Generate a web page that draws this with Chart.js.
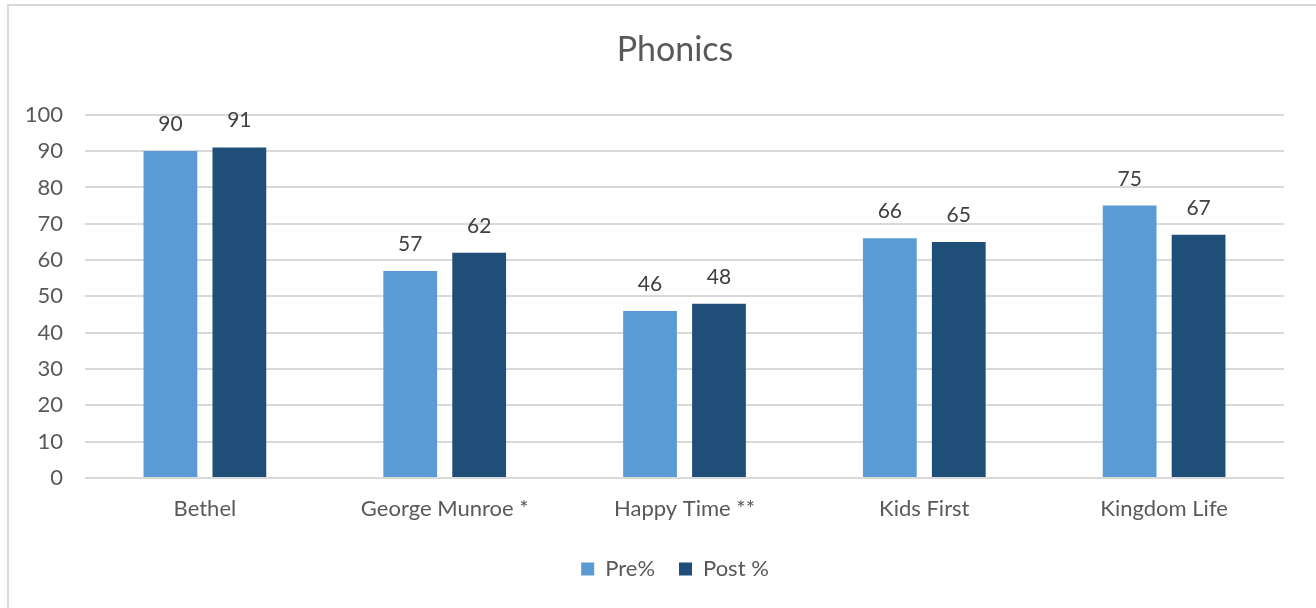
<!DOCTYPE html>
<html>
<head>
<meta charset="utf-8">
<script src="https://cdn.jsdelivr.net/npm/chart.js@4"></script>
<style>
  html, body { margin: 0; padding: 0; background: #fff; overflow: hidden; }
  #wrap { position: absolute; left: 0; top: 0; width: 1316px; height: 608px; overflow: hidden; }
  #frame { position: absolute; left: 7px; top: 4px; width: 1400px; height: 700px; border: 2px solid #d9d9d9; box-sizing: border-box; }
  canvas { position: absolute; left: 0; top: 0; }
</style>
</head>
<body>
<div id="wrap">
  <div id="frame"></div>
  <canvas id="chart" width="1350" height="608"></canvas>
</div>
<script>
// chart values
const schools = ['Bethel', 'George Munroe *', 'Happy Time **', 'Kids First', 'Kingdom Life'];
const prePct = [90, 57, 46, 66, 75];
const postPct = [91, 62, 48, 65, 67];
const yTicks = [0, 10, 20, 30, 40, 50, 60, 70, 80, 90, 100];

const textColor = '#595959';
const fontName = 'Lato, "Open Sans", sans-serif';

// draws the value above each bar (no datalabels plugin offline)
const valueLabels = {
  id: 'valueLabels',
  afterDatasetsDraw(chart) {
    const ctx = chart.ctx;
    ctx.save();
    ctx.fillStyle = '#404040';
    ctx.font = '21px ' + fontName;
    ctx.textAlign = 'center';
    ctx.textBaseline = 'alphabetic';
    chart.data.datasets.forEach(function(ds, i) {
      chart.getDatasetMeta(i).data.forEach(function(bar, j) {
        ctx.fillText(String(ds.data[j]), bar.x, bar.y - 20);
      });
    });
    ctx.restore();
  }
};

new Chart(document.getElementById('chart'), {
  type: 'bar',
  data: {
    labels: schools,
    datasets: [
      { label: 'Pre%', data: prePct, backgroundColor: '#5b9bd5' },
      { label: 'Post %', data: postPct, backgroundColor: '#1f4e79' }
    ]
  },
  options: {
    responsive: false,
    animation: false,
    layout: { padding: { left: 0, right: 0, top: 0, bottom: 18 } },
    datasets: { bar: { categoryPercentage: 0.575, barPercentage: 0.78 } },
    plugins: {
      title: {
        display: true,
        text: 'Phonics',
        color: textColor,
        font: { family: fontName, size: 34, weight: 'normal' },
        padding: { top: 30, bottom: 44 }
      },
      legend: {
        position: 'bottom',
        labels: {
          color: textColor,
          font: { family: fontName, size: 22 },
          boxWidth: 13,
          boxHeight: 13,
          padding: 24
        }
      },
      tooltip: { enabled: false }
    },
    scales: {
      x: {
        grid: { display: false },
        border: { display: false },
        afterFit(scale) { scale.height = 56; },
        ticks: { color: textColor, font: { family: fontName, size: 22 }, padding: 10 }
      },
      y: {
        min: 0,
        max: 100,
        afterBuildTicks(scale) { scale.ticks = yTicks.map(v => ({ value: v })); },
        afterFit(scale) { scale.width = 85; },
        grid: { color: '#d9d9d9', lineWidth: 2, drawTicks: false },
        border: { display: false },
        ticks: { color: textColor, font: { family: fontName, size: 22 }, padding: 22 }
      },
      // empty right margin so title and legend centre like the original
      spacer: {
        type: 'linear',
        position: 'right',
        grid: { display: false },
        border: { display: false },
        ticks: { display: false },
        afterFit(scale) { scale.width = 66; }
      }
    }
  },
  plugins: [valueLabels]
});
</script>
</body>
</html>
